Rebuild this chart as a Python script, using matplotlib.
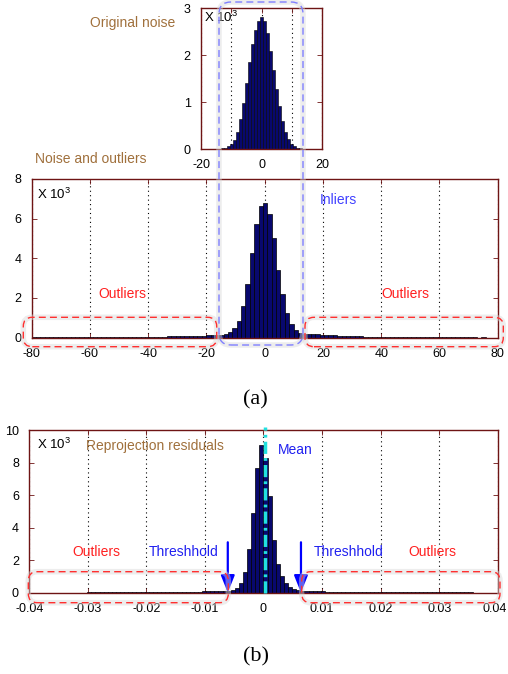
import numpy as np
import matplotlib
matplotlib.use('Agg')
import matplotlib.pyplot as plt
import matplotlib.transforms as mtransforms
from matplotlib.patches import FancyBboxPatch

plt.rcParams['font.family'] = ['Liberation Sans', 'DejaVu Sans']
plt.rcParams['axes.unicode_minus'] = False
plt.rcParams['mathtext.fontset'] = 'custom'
plt.rcParams['mathtext.rm'] = 'Liberation Sans'

# original gaussian noise, counts in thousands, unit-wide bins
noise_centers = np.arange(-16, 17)
noise_counts = [0.002, 0.004, 0.008, 0.016, 0.03, 0.06, 0.11, 0.2, 0.36, 0.63,
                0.98, 1.4, 1.85, 2.24, 2.53, 2.73, 2.8, 2.72, 2.47, 2.09,
                1.68, 1.28, 0.92, 0.6, 0.36, 0.21, 0.115, 0.06, 0.03, 0.016,
                0.008, 0.004, 0.002]

# noise plus outliers, bins of 1.5 (k = -53 .. 53)
mix_bin = 1.5
mix_left_tail = [0.01, 0.02, 0.01, 0.03, 0.02, 0.01, 0.02, 0.02, 0.01, 0.03,
                 0.02, 0.02, 0.01, 0.02, 0.03, 0.02, 0.02, 0.03, 0.02, 0.02,
                 0.03, 0.02, 0.03, 0.03, 0.02, 0.03, 0.03, 0.04, 0.03, 0.04,
                 0.05,
                 0.06, 0.07, 0.06, 0.07, 0.07, 0.08, 0.07, 0.08, 0.09,
                 0.11, 0.12, 0.13]
mix_core = [0.13, 0.17, 0.27, 0.47, 0.86, 1.6, 2.73, 4.28, 5.72, 6.62,
            6.78, 6.22, 5.0, 3.4, 2.18, 1.24, 0.71, 0.39, 0.26, 0.18]
mix_right_tail = [0.17, 0.16, 0.16, 0.15, 0.14, 0.13, 0.12,
                  0.1, 0.09, 0.09, 0.08, 0.08, 0.07,
                  0.05, 0.05, 0.04, 0.05, 0.04, 0.04, 0.03, 0.04, 0.03, 0.03,
                  0.04, 0.03, 0.03, 0.02, 0.03, 0.03, 0.02, 0.03, 0.02, 0.02,
                  0.03, 0.02, 0.03, 0.02,
                  0.01, 0.01, 0.0, 0.01, 0.0, 0.0, 0.0]

# reprojection residuals, bins of 0.0007 (k = -57 .. 56)
res_bin = 0.0007
res_left_tail = [0, 0, 0, 0, 0, 0, 0, 0, 0, 0, 0, 0, 0, 0, 0.03,
                 0.04, 0.05, 0.04, 0.04, 0.05, 0.04, 0.05, 0.05, 0.04, 0.05,
                 0.05, 0.04, 0.05, 0.05, 0.05, 0.06, 0.05, 0.05, 0.06, 0.05,
                 0.06, 0.06, 0.06, 0.07, 0.06, 0.07, 0.07, 0.08,
                 0.08, 0.09, 0.1, 0.11]
res_core = [0.12, 0.13, 0.17, 0.3, 0.6, 1.25, 2.68, 4.88, 7.68, 9.08,
            8.26, 5.94, 3.24, 1.78, 1.03, 0.62, 0.36, 0.22, 0.15, 0.12]
res_right_tail = [0.11, 0.1, 0.1, 0.09, 0.08,
                  0.07, 0.07, 0.06, 0.06, 0.06, 0.05, 0.06, 0.05, 0.05, 0.05,
                  0.04, 0.05, 0.05, 0.04, 0.05, 0.04, 0.04, 0.05, 0.04, 0.04,
                  0.04, 0.05, 0.04, 0.04, 0.03, 0.04, 0.04, 0.03, 0.04, 0.04,
                  0.03, 0.03, 0.04, 0.03, 0.03,
                  0.02, 0, 0, 0, 0, 0, 0]
res_mean = 0.00025
res_thresholds = [-0.0061, 0.0064]

mix_k = np.arange(-53, 54)
mix_centers = 0.15 + mix_bin * mix_k
mix_counts = np.array(mix_left_tail + mix_core + mix_right_tail)
res_k = np.arange(-57, 57)
res_centers = (res_k + 0.5) * res_bin
res_counts = np.array(res_left_tail + res_core + res_right_tail)

SPINE = '#6e1414'
BAR = '#08086e'
BROWN = '#a0703c'
BLUE = '#2020f0'
RED = '#ff2020'

fig = plt.figure(figsize=(5.08, 6.74), dpi=100)
ax_top = fig.add_axes([0.3957, 0.7789, 0.2382, 0.2092])
ax_mid = fig.add_axes([0.0624, 0.4990, 0.9173, 0.2355])
ax_res = fig.add_axes([0.0577, 0.1206, 0.9220, 0.2414])


def style_axes(ax, xticks, xlabels, yticks):
    ax.set_xticks(xticks)
    ax.set_xticklabels(xlabels)
    ax.set_yticks(yticks)
    ax.set_yticklabels([str(v) for v in yticks])
    ax.tick_params(direction='in', top=True, right=True, length=3.5,
                   width=0.6, color=SPINE, labelsize=9, pad=7.5)
    for s in ax.spines.values():
        s.set_color(SPINE)
        s.set_linewidth(1.0)
    ax.set_axisbelow(True)
    ax.xaxis.grid(True, linestyle=(0, (1, 3)), color='black', linewidth=0.8)


def bars(ax, centers, counts, width, lw=0.5):
    ax.bar(centers, counts, width=width, color=BAR, edgecolor='black',
           linewidth=lw, zorder=2)


def times_ten(ax, x, y):
    ax.text(x, y, r'X 10$^3$', transform=ax.transAxes, fontsize=9.5,
            va='baseline', ha='left')


# original noise
bars(ax_top, noise_centers, noise_counts, 1.0, lw=0.4)
ax_top.set_xlim(-20, 20)
ax_top.set_ylim(0, 3)
style_axes(ax_top, [-20, -10, 0, 10, 20], ['-20', '', '0', '', '20'], [0, 1, 2, 3])
times_ten(ax_top, 0.027, 0.903)
ax_top.text(-0.209, 0.865, 'Original noise', transform=ax_top.transAxes,
            color=BROWN, fontsize=10, ha='right', va='baseline')

# noise and outliers
bars(ax_mid, mix_centers, mix_counts, mix_bin)
ax_mid.set_xlim(-80, 80)
ax_mid.set_ylim(0, 8)
xt = list(range(-80, 81, 20))
style_axes(ax_mid, xt, [str(v) for v in xt], [0, 2, 4, 6, 8])
times_ten(ax_mid, 0.012, 0.872)
ax_mid.text(0.007, 1.099, 'Noise and outliers', transform=ax_mid.transAxes,
            color=BROWN, fontsize=10, ha='left', va='baseline')
ax_mid.text(18.8, 6.95, 'Inliers', color='#4040ff', fontsize=10,
            ha='left', va='center')
for xo in (-49, 48.4):
    ax_mid.text(xo, 2.19, 'Outliers', color=RED, fontsize=10,
                ha='center', va='center')

# reprojection residuals
bars(ax_res, res_centers, res_counts, res_bin)
ax_res.set_xlim(-0.04, 0.04)
ax_res.set_ylim(0, 10)
rt = [-0.04, -0.03, -0.02, -0.01, 0, 0.01, 0.02, 0.03, 0.04]
style_axes(ax_res, rt, ['0' if v == 0 else '%g' % v for v in rt],
           [0, 2, 4, 6, 8, 10])
# keep the last tick label inside the figure edge
last = ax_res.get_xticklabels()[-1]
last.set_transform(last.get_transform() +
                   mtransforms.ScaledTranslation(-3 / 100, 0, fig.dpi_scale_trans))
times_ten(ax_res, 0.017, 0.881)
ax_res.text(0.121, 0.877, 'Reprojection residuals', transform=ax_res.transAxes,
            color=BROWN, fontsize=10, ha='left', va='baseline')
ax_res.plot([res_mean, res_mean], [0, 10.2], color='#22e0e0', lw=2.5,
            linestyle=(0, (3.5, 1.2, 0.8, 1.2)), clip_on=False, zorder=3)
ax_res.text(0.0025, 8.52, 'Mean', color=BLUE, fontsize=10,
            ha='left', va='baseline')
for thr in res_thresholds:
    ax_res.annotate('', xy=(thr, 0), xytext=(thr, 3.1),
                    arrowprops=dict(arrowstyle='-|>,head_width=0.3,head_length=0.75',
                                    color='blue', lw=1.6, mutation_scale=14,
                                    shrinkA=0, shrinkB=0), zorder=4)
for xo, label, col in [(-0.0285, 'Outliers', RED), (-0.0136, 'Threshhold', BLUE),
                       (0.01457, 'Threshhold', BLUE), (0.02878, 'Outliers', RED)]:
    ax_res.text(xo, 2.26, label, color=col, fontsize=10,
                ha='center', va='baseline')


def dashed_box(x0, y0, x1, y1, color, radius=0.09):
    # coordinates in inches from the lower-left corner of the figure
    halo = FancyBboxPatch((x0, y0), x1 - x0, y1 - y0,
                          boxstyle='round,pad=0,rounding_size=%g' % radius,
                          transform=fig.dpi_scale_trans, fill=False,
                          edgecolor='0.85', lw=4, alpha=0.45, zorder=4)
    fig.add_artist(halo)
    box = FancyBboxPatch((x0, y0), x1 - x0, y1 - y0,
                         boxstyle='round,pad=0,rounding_size=%g' % radius,
                         transform=fig.dpi_scale_trans, fill=False,
                         edgecolor=color, lw=1.0, linestyle=(0, (5, 3)), zorder=5)
    fig.add_artist(box)


dashed_box(2.19, 3.29, 3.03, 6.72, '#7f7fff', radius=0.12)
dashed_box(0.233, 3.273, 2.167, 3.567, '#ff3030')
dashed_box(3.05, 3.273, 5.033, 3.567, '#ff3030')
dashed_box(0.283, 0.713, 2.283, 1.023, '#ff3030')
dashed_box(3.017, 0.713, 5.0, 1.023, '#ff3030')

fig.text(255.5 / 508, 1 - 400 / 674, '(a)', family='Liberation Serif',
         fontsize=16, ha='center', va='center')
fig.text(255.5 / 508, 1 - 657 / 674, '(b)', family='Liberation Serif',
         fontsize=16, ha='center', va='center')

fig.savefig('out.png', dpi=100)
